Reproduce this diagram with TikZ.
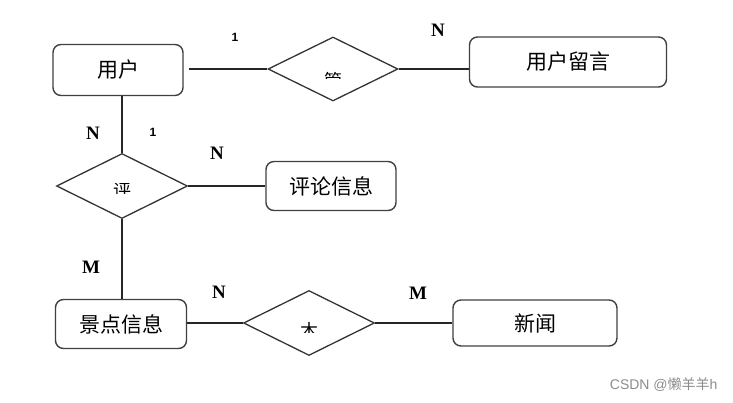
\documentclass[tikz,border=0pt]{standalone}
\usepackage{fontspec}
\usepackage{tikz}
\usetikzlibrary{positioning,shapes.geometric}
\newfontfamily\cjk{Noto Sans CJK SC}
\newfontfamily\tms{Liberation Serif}
\newfontfamily\ars{Liberation Sans}

\begin{document}
\begin{tikzpicture}[x=1pt,y=-1pt,
  entity/.style={draw=black!75, line width=1.4pt, rectangle, rounded corners=8pt, font=\cjk\fontsize{21}{24}\selectfont, inner sep=0pt},
  rel/.style={draw=black!80, line width=1.3pt, diamond, aspect=2, inner sep=0pt},
  link/.style={draw=black!85, line width=1.4pt},
  card/.style={font=\tms\bfseries\fontsize{19}{22}\selectfont},
  one/.style={font=\ars\bfseries\fontsize{12}{14}\selectfont},
  cut/.style={font=\cjk\fontsize{18}{20}\selectfont}
]
\useasboundingbox (0,0) rectangle (733,403);

% Entities
\node[entity, minimum width=130pt, minimum height=51pt] (user) at (118,70) {用户};
\node[entity, minimum width=197pt, minimum height=50pt] (msg) at (568,62) {用户留言};
\node[entity, minimum width=130pt, minimum height=49pt] (cmt) at (331,186) {评论信息};
\node[entity, minimum width=131pt, minimum height=49pt] (spot) at (121,324) {景点信息};
\node[entity, minimum width=164pt, minimum height=46pt] (news) at (535,323) {新闻};

% Relationships
\node[rel, minimum width=130pt, minimum height=64pt] (r1) at (333,69) {};
\node[rel, minimum width=131pt, minimum height=65pt] (r2) at (122,186) {};
\node[rel, minimum width=131pt, minimum height=65pt] (r3) at (309,323) {};

% clipped relationship texts
\begin{scope}
  \clip (320,69) rectangle (346,79);
  \node[cut] (t1) at (333,81) {管};
\end{scope}
\begin{scope}
  \clip (110,184) rectangle (134,194);
  \node[cut] (t2) at (122,191) {评};
\end{scope}
\begin{scope}
  \clip (296,319) rectangle (322,332);
  \node[cut] (t3) at (309,331) {木};
\end{scope}

% Connectors
\draw[link] (user.east) ++(5,-1) coordinate (u1) -- (r1.west);
\draw[link] (r1.east) -- (r1.east -| msg.west);
\draw[link] (user.south -| r2.north) -- (r2.north);
\draw[link] (r2.east) -- (cmt.west);
\draw[link] (r2.south) -- (r2.south |- spot.north);
\draw[link] (spot.east |- r3.west) -- (r3.west);
\draw[link] (r3.east) -- (r3.east -| news.west);

% Cardinalities
\node[one] (c1) at (235,37) {1};
\node[card] (c2) at (438,30) {N};
\node[card] (c3) at (93,133) {N};
\node[one] (c4) at (153,132) {1};
\node[card] (c5) at (217,153) {N};
\node[card] (c6) at (91,267) {M};
\node[card] (c7) at (219,292) {N};
\node[card] (c8) at (418,293) {M};

% watermark
\node[font=\ars\fontsize{14}{16}\selectfont, text=black!45, anchor=east] (wm) at (721,385) {CSDN @\cjk 懒羊羊\ars h};

\end{tikzpicture}
\end{document}
